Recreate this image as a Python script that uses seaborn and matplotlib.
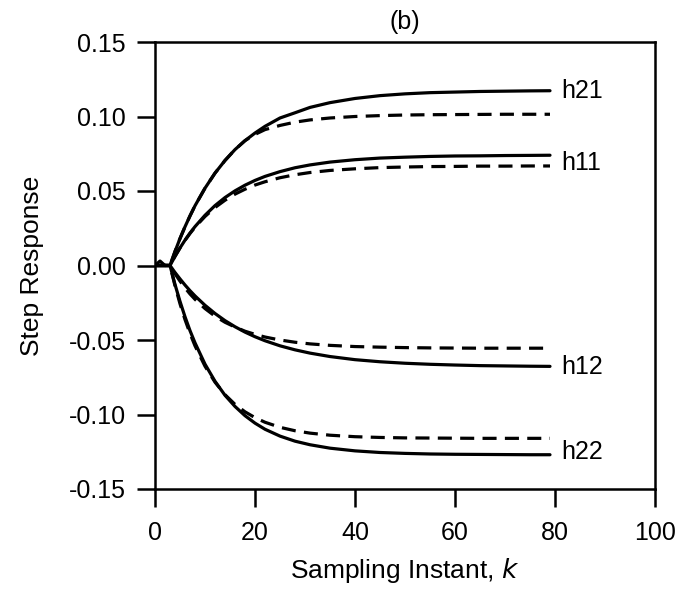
import matplotlib
matplotlib.use("Agg")
import matplotlib.pyplot as plt
import seaborn as sns
import pandas as pd

# Sampling instants at which the responses are tabulated
k = [0, 1, 2, 3, 4, 5, 6, 7, 8, 10, 12, 14, 16, 18, 20, 22, 25, 28, 31, 35,
     40, 45, 50, 55, 60, 65, 70, 75, 79]

# Step responses: process (solid) and identified model (dashed)
h11_process = [0, 0, 0, 0, 0.0061, 0.0118, 0.0170, 0.0218, 0.0261, 0.0337, 0.0402,
               0.0456, 0.0501, 0.0539, 0.0571, 0.0598, 0.0630, 0.0656, 0.0675, 0.0694,
               0.0710, 0.0721, 0.0727, 0.0732, 0.0735, 0.0736, 0.0738, 0.0739, 0.0740]
h11_model = [0, 0, 0, 0, 0.0062, 0.0118, 0.0169, 0.0215, 0.0257, 0.0329, 0.0389,
             0.0438, 0.0479, 0.0512, 0.0540, 0.0562, 0.0589, 0.0609, 0.0624, 0.0638,
             0.0649, 0.0657, 0.0661, 0.0664, 0.0665, 0.0667, 0.0667, 0.0668, 0.0668]
h21_process = [0, 0, 0, 0, 0.0094, 0.0181, 0.0260, 0.0333, 0.0401, 0.0519, 0.0620,
               0.0705, 0.0778, 0.0838, 0.0889, 0.0934, 0.0990, 0.1025, 0.1061, 0.1093,
               0.1121, 0.1140, 0.1152, 0.1160, 0.1164, 0.1168, 0.1170, 0.1172, 0.1173]
h21_model = [0, 0.003, 0, 0, 0.0094, 0.0181, 0.0260, 0.0333, 0.0401, 0.0519, 0.0620,
             0.0705, 0.0778, 0.0838, 0.0880, 0.0912, 0.0940, 0.0962, 0.0977, 0.0990,
             0.1000, 0.1006, 0.1010, 0.1012, 0.1013, 0.1014, 0.1015, 0.1015, 0.1015]
h12_process = [0, 0, 0, 0, -0.0047, -0.0090, -0.0131, -0.0169, -0.0204, -0.0267, -0.0322,
               -0.0370, -0.0411, -0.0447, -0.0478, -0.0505, -0.0539, -0.0566, -0.0588, -0.0611,
               -0.0632, -0.0646, -0.0656, -0.0663, -0.0668, -0.0672, -0.0674, -0.0676, -0.0677]
h12_model = [0, 0, 0, 0, -0.0055, -0.0105, -0.0150, -0.0191, -0.0227, -0.0289, -0.0340,
             -0.0381, -0.0413, -0.0441, -0.0462, -0.0480, -0.0500, -0.0515, -0.0526, -0.0536,
             -0.0544, -0.0548, -0.0551, -0.0553, -0.0554, -0.0555, -0.0555, -0.0555, -0.0555]
h22_process = [0, 0, 0, 0, -0.0127, -0.0241, -0.0344, -0.0437, -0.0519, -0.0662, -0.0777,
               -0.0871, -0.0946, -0.1008, -0.1058, -0.1099, -0.1145, -0.1179, -0.1203, -0.1226,
               -0.1244, -0.1255, -0.1261, -0.1265, -0.1267, -0.1268, -0.1269, -0.1270, -0.1270]
h22_model = [0, 0, 0, 0, -0.0136, -0.0257, -0.0363, -0.0456, -0.0539, -0.0676, -0.0783,
             -0.0867, -0.0932, -0.0982, -0.1021, -0.1052, -0.1086, -0.1109, -0.1125, -0.1139,
             -0.1149, -0.1154, -0.1157, -0.1158, -0.1159, -0.1160, -0.1160, -0.1160, -0.1160]

channel_names = ["h21", "h11", "h12", "h22"]
label_pos = [0.117, 0.069, -0.068, -0.125]

x_ticks = [0, 20, 40, 60, 80, 100]
y_ticks = [-0.15, -0.10, -0.05, 0.00, 0.05, 0.10, 0.15]

series = {
    "h11": (h11_process, h11_model),
    "h21": (h21_process, h21_model),
    "h12": (h12_process, h12_model),
    "h22": (h22_process, h22_model),
}

rows = []
for name, (proc, mod) in series.items():
    for kk, v in zip(k, proc):
        rows.append({"k": kk, "value": v, "channel": name, "kind": "process"})
    for kk, v in zip(k, mod):
        rows.append({"k": kk, "value": v, "channel": name, "kind": "model"})
df = pd.DataFrame(rows)

sns.set_theme(style="ticks")
plt.rcParams["font.family"] = ["Liberation Sans", "DejaVu Sans"]
plt.rcParams["axes.unicode_minus"] = False
plt.rcParams["text.color"] = "black"
plt.rcParams["axes.labelcolor"] = "black"

fig = plt.figure(figsize=(6.78, 5.92), dpi=100)
ax = fig.add_axes([155 / 678, 1 - 489 / 592, 500 / 678, 447 / 592])

for name in series:
    for kind, ls in (("process", "-"), ("model", (0, (4.4, 2.6)))):
        sub = df[(df["channel"] == name) & (df["kind"] == kind)]
        sns.lineplot(data=sub, x="k", y="value", ax=ax, color="black",
                     linewidth=2.3, linestyle=ls, estimator=None, legend=False)

for name, yp in zip(channel_names, label_pos):
    ax.text(81.3, yp, name, ha="left", va="center", fontsize=18, color="black")

ax.set_xlim(0, 100)
ax.set_ylim(-0.15, 0.15)
ax.set_xticks(x_ticks)
ax.set_yticks(y_ticks)
ax.set_yticklabels([f"{t:.2f}" for t in y_ticks])
ax.tick_params(axis="both", direction="out", length=13, width=1.8,
               labelsize=18, colors="black")
ax.tick_params(axis="x", pad=10)
ax.tick_params(axis="y", pad=8)
for side in ("left", "right", "top", "bottom"):
    ax.spines[side].set_visible(True)
    ax.spines[side].set_linewidth(1.8)
    ax.spines[side].set_color("black")

ax.set_xlabel("Sampling Instant, $\\it{k}$", fontsize=19, labelpad=8)
ax.set_ylabel("Step Response", fontsize=19, labelpad=18)
ax.set_title("(b)", fontsize=18, pad=9)

fig.savefig("out.png", dpi=100, facecolor="white")
